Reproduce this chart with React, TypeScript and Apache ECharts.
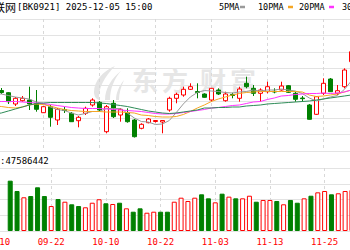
import React, { useEffect, useRef } from 'react';
import * as echarts from 'echarts';

const dates = ['09-10','09-11','09-12','09-15','09-16','09-17','09-18','09-19','09-22','09-23','09-24','09-25','09-26','09-29','09-30','10-09','10-10','10-13','10-14','10-15','10-16','10-17','10-20','10-21','10-22','10-23','10-24','10-27','10-28','10-29','10-30','10-31','11-03','11-04','11-05','11-06','11-07','11-10','11-11','11-12','11-13','11-14','11-17','11-18','11-19','11-20','11-21','11-24','11-25','11-26','11-27','11-28','12-01','12-02','12-03','12-04','12-05'];

const N = null;
const opens = [N,N,1507,1502.6,1480,1486.6,1488,1481.4,1462.6,1474.6,1448,1469,1461.4,1446.6,1461.4,1478,1483.4,1424.6,1481.4,1458,1462.6,1448,1431.4,1442.6,1445,1444,1468,1491.4,1498,1509.4,1505,1500,1488,1508,1486.6,1499,1491.4,1521.4,1511.4,1501.4,1504.6,1505.4,1508,1516.6,1501.4,1492,1478,1459.4,1501.4,1530,1501.4,1514.6,1564.6,N,N,N,N];
const closes = [N,N,1503,1484.6,1491.4,1491.4,1480,1469.4,1474.6,1453.4,1469.4,1467,1444.6,1453.4,1471.4,1488,1468,1474.6,1454.6,1469.4,1444.6,1414.6,1439.4,1450,1447,1447,1491.4,1499.4,1509.4,1514.6,1503,1493.4,1511.4,1500,1500,1497,1510,1514.6,1501.4,1508,1514.6,1504,1516,1503.4,1489.4,1490.6,1449.4,1494.6,1521.4,1504.6,1506.6,1548,1584.6,N,N,N,N];
const lows = [N,N,1500,1480,1476,1484.6,1468,1464.6,1462,1434.6,1438,1462,1444,1433.4,1458,1474.6,1466,1421.4,1452,1444.6,1442.6,1413,1429.4,1441.4,1443,1421.4,1464.6,1481.4,1494.6,1508,1491.4,1492.6,1484.6,1498,1484.6,1491.4,1484.6,1511.4,1496,1484.6,1501.4,1501.4,1506.6,1502,1484.6,1484.6,1448.6,1458,1498,1504,1498,1511.4,1562,N,N,N,N];
const highs = [N,N,1512,1504,1494,1496,1514.6,1508,1476,1478,1472,1474,1464,1456,1474.6,1491.4,1486,1478,1488,1472,1471.4,1450,1441.4,1452,1448,1448,1494.6,1502.6,1514.6,1521.4,1521.4,1501.4,1512,1511.4,1504.6,1502.6,1514.6,1534.6,1518,1511.4,1524.6,1511.4,1524.6,1518,1504.6,1496,1480,1496,1531.4,1532,1518,1551.4,1588,N,N,N,N];

const ma5 = [1500,1500,1500,1497,1494,1492,1490,1484,1481,1474,1469,1467,1462,1458,1461,1465,1465,1471,1471,1471,1462,1452,1445,1444,1439,1440,1447,1463,1480,1494,1503,1507,1506,1505,1503,1502,1504,1505,1508,1506,1508,1508,1510,1508,1506,1501,1492,1486,1490,1494,1497,1509,1526,N,N,N,N];
const ma10 = [1476,1476,1475,1473,1472,1474,1478,1480,1479,1476,1472,1469,1467,1466,1465,1465,1465,1464,1464,1464,1463,1462,1458,1457,1455,1454,1454,1455,1459,1465,1472,1478,1485,1490,1494,1498,1501,1503,1504,1505,1505,1505,1505,1505,1505,1504,1498,1495,1496,1498,1500,1504,1508,N,N,N,N];
const ma20 = [1485,1485,1485,1485,1485,1484,1483,1482,1481,1479,1477,1475,1473,1472,1471,1471,1471,1470,1469,1468,1467,1466,1465,1463,1461,1460,1460,1461,1463,1465,1467,1469,1472,1473,1475,1477,1478,1481,1484,1485,1489,1492,1496,1497,1499,1500,1501,1501,1502,1501,1502,1504,1508,N,N,N,N];
const ma30 = [1458,1460,1462,1466,1470,1474,1478,1481,1482,1483,1483,1483,1483,1483,1483,1483,1482,1481,1479,1477,1475,1472,1469,1466,1464,1462,1461,1462,1464,1466,1468,1472,1472,1473,1473,1474,1474,1476,1477,1478,1480,1481,1482,1483,1484,1485,1486,1488,1490,1492,1494,1496,1498,N,N,N,N];

// volume in millions of shares
const volumes = [N,N,63.9,50.8,42.8,44.4,55.5,44.4,31.7,40.6,37.2,33.9,31.7,30.1,35.9,40.3,35.2,34.3,35.9,28.8,24.5,28.8,23.2,24.5,24.5,24.5,37.2,42.3,38.1,42.3,46.6,41.5,36.4,47.4,43.6,41.5,41.5,44.8,37.2,39.4,39.4,38.1,33.9,39.4,35.9,41.5,44.8,49.1,50.8,46.6,47.9,50.8,52.1,N,N,N,N];
// 1 = red (up), 0 = green (down)
const volUp = [N,N,0,0,1,0,0,0,1,0,1,0,0,1,1,1,0,1,0,1,0,0,1,1,0,0,1,1,1,1,0,0,1,0,1,0,1,1,0,1,1,0,1,0,0,1,0,1,1,0,1,1,1,N,N,N,N];

const titleCJK = '联网';
const titleText = '[BK0921] 2025-12-05 15:00';
const volText = ':47586442';
const legendNames = ['5PMA', '10PMA', '20PMA', '30PMA'];
const maColors = ['#9a9a9a', '#f5a623', '#ff33ff', '#2e8b57'];
const watermarkChars = ['东', '方', '财', '富'];

const RED = '#ff0000';
const GREEN = '#008000';
const MONO = '"DejaVu Sans Mono", monospace';
const OFF = 20; // chart div is shifted left by OFF px

const LOGO_D =
  'M22 0 C10 5 1 15 1 26 C1 30 3 33 6 34 C5 23 11 11 22 0 Z ' +
  'M28 5 C19 12 12 22 12 34 L17 34 C17 23 21 13 28 5 Z ' +
  'M31 14 C26 20 23 27 23 34 L26 34 C26 27 28 21 31 14 Z';

let registered = false;

export default function App() {
  const ref = useRef<HTMLDivElement>(null);
  useEffect(() => {
    if (!registered) {
      echarts.graphic.registerShape('dflogo', echarts.graphic.extendPath(LOGO_D, {}));
      registered = true;
    }
    const chart = echarts.init(ref.current!, null, { renderer: 'svg' });
    const candles = dates.map((_, k) =>
      opens[k] == null ? '-' : [opens[k], closes[k], lows[k], highs[k]]
    );
    const volData = dates.map((_, k) =>
      volumes[k] == null
        ? '-'
        : {
            value: volumes[k],
            itemStyle: volUp[k]
              ? { color: '#ffffff', borderColor: RED, borderWidth: 1 }
              : { color: GREEN, borderColor: GREEN, borderWidth: 1 },
          }
    );
    const legendX = [219, 258, 299, 342];
    const dashX = [240, 288, 329];
    const graphics: any[] = [
      { type: 'dflogo', x: 93 + OFF, y: 66, scaleX: 1, scaleY: 1, z: -10, style: { fill: '#e4e4e4' } },
      { type: 'text', x: -6 + OFF, y: 7, style: { text: titleCJK, font: '11px "Noto Sans CJK SC"', fill: '#000', verticalAlign: 'middle' } },
      { type: 'text', x: 17 + OFF, y: 7, style: { text: titleText, font: '9px ' + MONO, fill: '#000', verticalAlign: 'middle' } },
      { type: 'text', x: 0 + OFF, y: 160.5, style: { text: volText, font: '9px ' + MONO, fill: '#000', verticalAlign: 'middle' } },
      { type: 'line', shape: { x1: 0, y1: 168.5, x2: 420, y2: 168.5 }, z: -5, style: { stroke: '#c8c8c8', lineWidth: 1 } },
    ];
    legendNames.forEach((n, i) => {
      graphics.push({ type: 'text', x: legendX[i] + OFF, y: 7, style: { text: n, font: '8.5px ' + MONO, fill: '#000', verticalAlign: 'middle' } });
      if (i < 3) graphics.push({ type: 'line', z: 5, shape: { x1: dashX[i] + OFF, y1: 7, x2: dashX[i] + OFF + 5, y2: 7 }, style: { stroke: maColors[i], lineWidth: 2.5 } });
    });
    const wmX = [145, 175, 213, 243];
    watermarkChars.forEach((c, i) => {
      graphics.push({ type: 'text', x: wmX[i] + OFF, y: 79, z: -10, style: { text: c, font: 'bold 26px "Noto Sans CJK SC"', fill: '#e6e6e6', align: 'center', verticalAlign: 'middle' } });
    });

    const option: any = {
      animation: false,
      backgroundColor: '#ffffff',
      graphic: graphics,
      grid: [
        { left: -12.7 + OFF, width: 392, top: 19, height: 132 },
        { left: -12.7 + OFF, width: 392, top: 168, height: 63 },
      ],
      xAxis: [
        {
          type: 'category', gridIndex: 0, data: dates, boundaryGap: false,
          axisLine: { show: false }, axisTick: { show: false }, axisLabel: { show: false },
          splitLine: { show: true, interval: 7, lineStyle: { color: '#d8d8d8', type: [3, 3], width: 1 } },
        },
        {
          type: 'category', gridIndex: 1, data: dates, boundaryGap: false,
          axisLine: { show: false }, axisTick: { show: false },
          axisLabel: { show: true, interval: 7, color: RED, fontSize: 9, fontFamily: 'DejaVu Sans Mono', margin: 6 },
          splitLine: { show: true, interval: 7, lineStyle: { color: '#d8d8d8', type: [3, 3], width: 1 } },
        },
      ],
      yAxis: [
        {
          type: 'value', gridIndex: 0, min: 1386, max: 1650, interval: 33,
          axisLine: { show: false }, axisTick: { show: false }, axisLabel: { show: false },
          splitLine: { lineStyle: { color: '#e3e3e3', width: 1 } },
        },
        {
          type: 'value', gridIndex: 1, min: 0, max: 80, interval: 20,
          axisLine: { show: false }, axisTick: { show: false }, axisLabel: { show: false },
          splitLine: { lineStyle: { color: '#e3e3e3', width: 1 } },
        },
      ],
      series: [
        {
          type: 'candlestick', xAxisIndex: 0, yAxisIndex: 0, data: candles, barWidth: 5,
          itemStyle: { color: '#ffffff', color0: GREEN, borderColor: RED, borderColor0: GREEN, borderWidth: 1 },
        },
        ...[ma5, ma10, ma20, ma30].map((d, i) => ({
          type: 'line', xAxisIndex: 0, yAxisIndex: 0, data: d, symbol: 'none',
          lineStyle: { color: maColors[i], width: 1 }, z: 3,
        })),
        { type: 'bar', xAxisIndex: 1, yAxisIndex: 1, data: volData, barWidth: 5 },
      ],
    };
    chart.setOption(option);
    return () => chart.dispose();
  }, []);
  return (
    <div style={{ position: 'absolute', left: 0, top: 0, width: 350, height: 250, overflow: 'hidden', background: '#fff' }}>
      <div ref={ref} style={{ position: 'absolute', left: -OFF, top: 0, width: 420, height: 250 }} />
    </div>
  );
}
